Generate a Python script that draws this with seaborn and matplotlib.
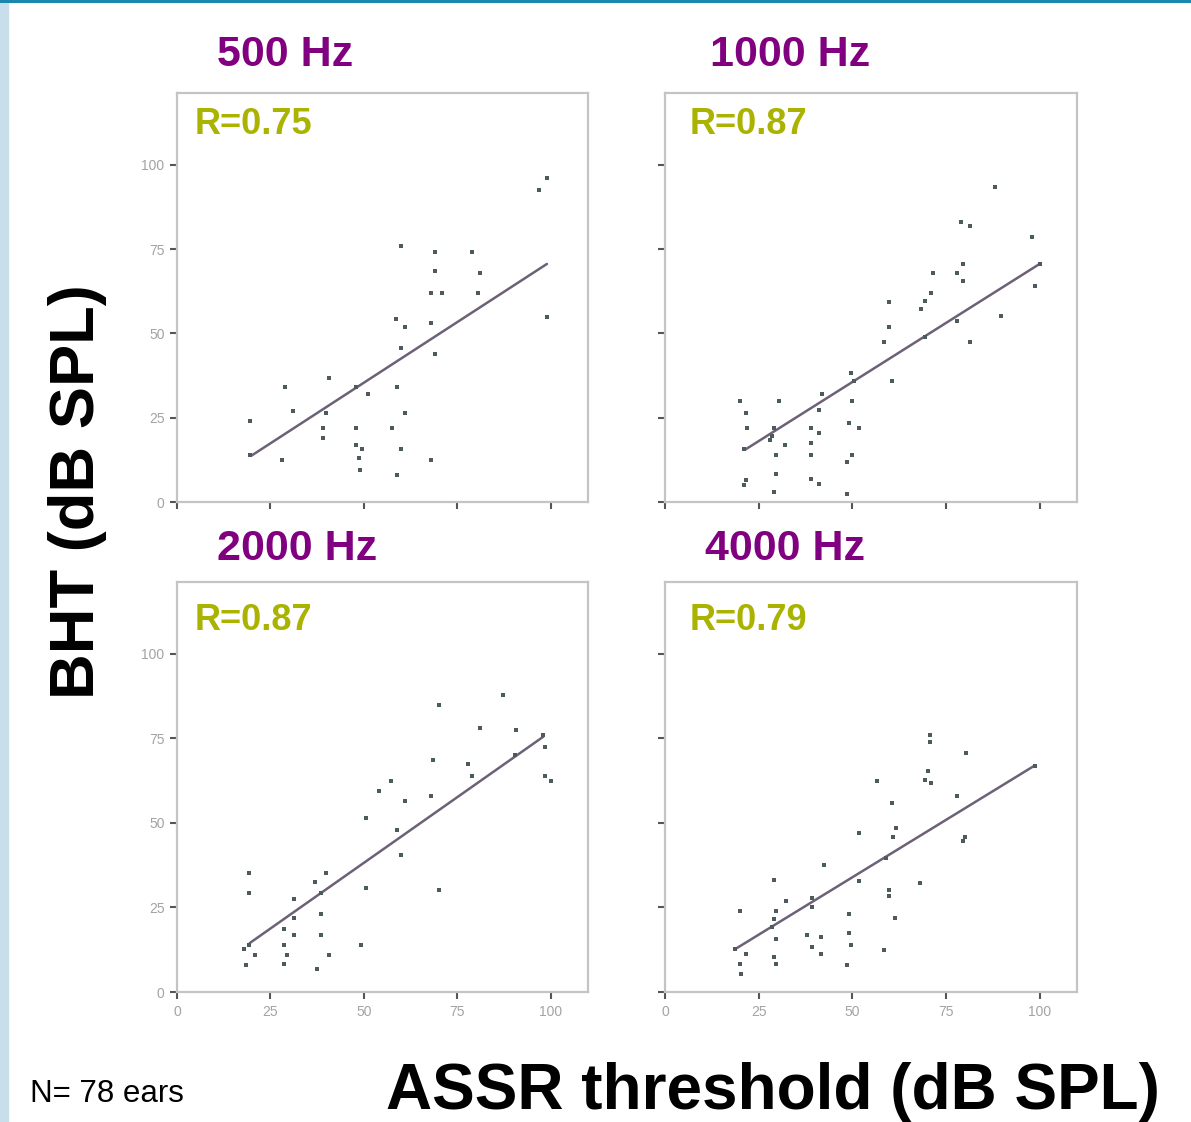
import numpy as np
import pandas as pd
import matplotlib
matplotlib.use("Agg")
import matplotlib.pyplot as plt
import seaborn as sns
from matplotlib.patches import Rectangle
from matplotlib.lines import Line2D

# ---------------- data ----------------
freq_labels = ["500 Hz", "1000 Hz", "2000 Hz", "4000 Hz"]
r_labels = ["R=0.75", "R=0.87", "R=0.87", "R=0.79"]

x500 = [99, 97, 60, 69, 79, 69, 81, 68, 71, 80.6, 99, 58.5, 61, 68, 60, 69, 40.7, 29, 48, 51,
        59, 31, 40, 19.5, 61, 48, 57.5, 39, 39, 48, 49.5, 60, 19.5, 28, 48.7, 49, 59, 68]
y500 = [96, 92.6, 76, 74, 74, 68.5, 68, 62, 62, 62, 55, 54.4, 52, 53, 45.6, 44, 36.8, 34, 34, 32,
        34, 27, 26.5, 24, 26.5, 22, 22, 22, 19, 17, 15.6, 15.6, 14, 12.6, 13, 9.4, 8, 12.6]

x1000 = [88, 79, 81.5, 98, 79.6, 78, 71.6, 79.6, 98.7, 71, 69.5, 68.4, 59.7, 89.7, 78, 59.7, 69.5,
         81.4, 58.4, 60.5, 49.6, 50.4, 42, 50, 30.5, 20, 41, 21.7, 51.7, 49, 22, 29, 28.6, 39, 41,
         28, 32, 39, 21, 29.7, 39, 50, 48.5, 29.7, 21.7, 39, 41, 29, 48.5, 21, 100]
y1000 = [93.5, 83, 82, 78.5, 70.6, 68, 68, 65.6, 64, 62, 59.7, 57.3, 59.4, 55.3, 53.8, 52, 49,
         47.6, 47.6, 35.9, 38.2, 35.9, 32, 30, 30, 30, 27.4, 26.5, 22, 23.5, 22, 22, 19.7, 22, 20.6,
         18.5, 16.8, 17.6, 15.6, 14, 13.8, 14, 11.8, 8.2, 6.5, 6.8, 5.3, 3, 2.4, 5, 70.6]

x2000 = [87.2, 70, 81, 90.7, 98, 98.4, 90.4, 68.6, 78, 79, 98.4, 100, 57.4, 54, 68, 61, 50.5, 58.8,
         60, 39.9, 19.4, 19.4, 37, 38.6, 50.5, 70, 31.4, 31.4, 38.6, 28.7, 31.4, 38.6, 19.4, 18, 21,
         28.7, 29.5, 28.7, 40.7, 49.2, 18.6, 37.5]
y2000 = [88, 85, 78, 77.4, 76, 72.6, 70, 68.5, 67.6, 64, 63.8, 62.4, 62.4, 59.4, 58, 56.5, 51.5, 48,
         40.6, 35.3, 35.3, 29.4, 32.4, 29.4, 30.9, 30.3, 27.4, 22, 23, 18.5, 16.8, 17, 14, 12.6, 10.9,
         14, 10.9, 8.2, 10.9, 14, 8, 6.8]

x4000 = [70.8, 70.8, 80.4, 70.3, 69.5, 56.5, 71, 60.5, 78, 51.7, 61.8, 61, 80, 79.6, 59, 42.4, 29.2,
         51.7, 68, 59.7, 59.7, 32.4, 39.3, 39.3, 19.9, 29.7, 29.2, 28.6, 49, 61.5, 29.7, 38, 41.6, 49,
         39.3, 41.6, 49.6, 58.4, 18.6, 21.7, 19.9, 20.4, 29.7, 29.2, 48.5, 98.7]
y4000 = [76, 74, 70.6, 65.3, 62.6, 62.4, 61.8, 56, 58, 47, 48.5, 46, 46, 44.7, 39.7, 37.6, 33.2,
         32.9, 32.3, 30.3, 28.5, 27, 27.9, 25, 24, 24, 21.5, 19.1, 23, 22, 15.6, 17, 16.2, 17.6,
         13.2, 11.2, 13.8, 12.3, 12.6, 11.2, 8.2, 5.3, 8.2, 10.3, 8, 67]

# fitted regression lines as printed (start / end points)
fit_x500 = [20, 99];     fit_y500 = [13.8, 70.6]
fit_x1000 = [21.5, 100]; fit_y1000 = [15.6, 70.6]
fit_x2000 = [19.5, 98];  fit_y2000 = [14.5, 75.5]
fit_x4000 = [18.6, 98.7]; fit_y4000 = [12.6, 67]

panel_x = [x500, x1000, x2000, x4000]
panel_y = [y500, y1000, y2000, y4000]
fit_x = [fit_x500, fit_x1000, fit_x2000, fit_x4000]
fit_y = [fit_y500, fit_y1000, fit_y2000, fit_y4000]

tick_values = [0, 25, 50, 75, 100]
tick_labels = ["0", "25", "50", "75", "100"]

# ---------------- style ----------------
sns.set_theme(style="white")
plt.rcParams['font.family'] = ['Liberation Sans', 'DejaVu Sans']

W, H = 1191, 1122
fig = plt.figure(figsize=(W / 100, H / 100), dpi=100)

# decorative slide frame
fig.add_artist(Rectangle((0, 0), 8 / W, 1, transform=fig.transFigure,
                         color="#c8dfeb", zorder=0))
fig.add_artist(Line2D([0, 1], [1 - 1.2 / H] * 2, transform=fig.transFigure,
                      color="#1b87ad", lw=2.2))

# axes boxes in pixel coordinates (left, top, right, bottom)
boxes = [(177, 93, 588, 502), (665, 93, 1077, 502),
         (177, 582, 588, 992), (665, 582, 1077, 992)]
title_pos = [(217, 55), (710, 55), (217, 549), (705, 549)]
r_pos = [(195, 125), (690, 125), (195, 620), (690, 620)]

for i, (l, t, r, b) in enumerate(boxes):
    ax = fig.add_axes([l / W, 1 - b / H, (r - l) / W, (b - t) / H])
    df = pd.DataFrame({"assr": panel_x[i], "bht": panel_y[i]})
    fit = pd.DataFrame({"assr": fit_x[i], "bht": fit_y[i]})
    sns.lineplot(data=fit, x="assr", y="bht", ax=ax, color="#6c6178", lw=1.8)
    sns.scatterplot(data=df, x="assr", y="bht", ax=ax, marker="s", s=12,
                    color="#4d5b5d", linewidth=0, zorder=3)
    ax.set_xlim(0, 110)
    ax.set_ylim(1, 121.3)
    ax.set_xticks(tick_values)
    ax.set_yticks(tick_values)
    ax.set_xticklabels(tick_labels if i >= 2 else [""] * 5)
    ax.set_yticklabels(tick_labels if i % 2 == 0 else [""] * 5)
    ax.set_xlabel("")
    ax.set_ylabel("")
    for s in ax.spines.values():
        s.set_color("#c4c4c4")
        s.set_linewidth(1.6)
    ax.tick_params(bottom=True, left=True, direction="out", length=5, width=1.5,
                   color="#555555", labelsize=10, labelcolor="#a3a3a3", pad=4)

    tx, ty = title_pos[i]
    fig.text(tx / W, 1 - ty / H, freq_labels[i], ha="left", va="center",
             fontsize=31, fontweight="bold", color="#800080")
    rx, ry = r_pos[i]
    fig.text(rx / W, 1 - ry / H, r_labels[i], ha="left", va="center",
             fontsize=26, fontweight="bold", color="#a9b300")

fig.text(773 / W, 1 - 1109 / H, "ASSR threshold (dB SPL)", ha="center", va="baseline",
         fontsize=46, fontweight="bold", color="black")
fig.text(78 / W, 1 - 492 / H, "BHT (dB SPL)", ha="center", va="center", rotation=90,
         fontsize=45.5, fontweight="bold", color="black")
fig.text(30 / W, 1 - 1094 / H, "N= 78 ears", ha="left", va="center",
         fontsize=22.5, color="black")

fig.savefig("out.png", dpi=100, facecolor="white")
